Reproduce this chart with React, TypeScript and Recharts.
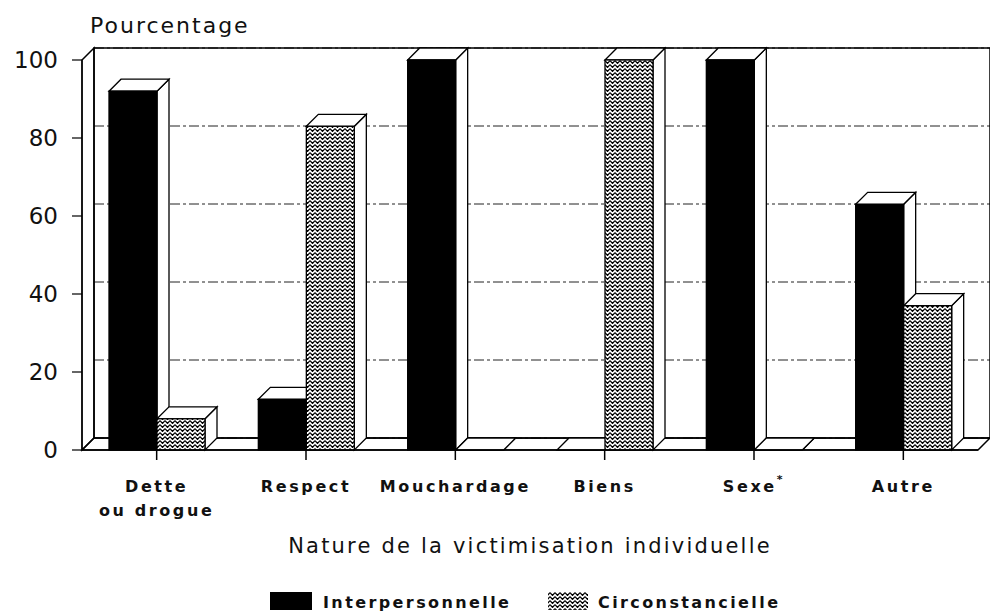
import React from "react";
import {
  BarChart,
  Bar,
  XAxis,
  YAxis,
  CartesianGrid,
  ReferenceArea,
} from "recharts";

const categories = ["Dette|ou drogue", "Respect", "Mouchardage", "Biens", "Sexe*", "Autre"];
const interpersonnelle = [92, 13, 100, 0, 100, 63];
const circonstancielle = [8, 83, 0, 100, 0, 37];
const yTicks = [0, 20, 40, 60, 80, 100];

const data = categories.map((name, i) => ({
  name,
  inter: interpersonnelle[i],
  circ: circonstancielle[i],
}));

const FONT = "'DejaVu Sans', Verdana, sans-serif";
const DEPTH = 12;

function makeBox(frontFill: string) {
  return (props: any) => {
    const { x, y, width, height } = props;
    const d = DEPTH;
    const top = `${x},${y} ${x + d},${y - d} ${x + width + d},${y - d} ${x + width},${y}`;
    const side = `${x + width},${y} ${x + width + d},${y - d} ${x + width + d},${y + height - d} ${x + width},${y + height}`;
    return (
      <g>
        <polygon points={side} fill="#fff" stroke="#000" strokeWidth={1.3} />
        <polygon points={top} fill="#fff" stroke="#000" strokeWidth={1.3} />
        {height > 0 && (
          <rect x={x} y={y} width={width} height={height} fill={frontFill} stroke="#000" strokeWidth={1.3} />
        )}
      </g>
    );
  };
}

function Walls(props: any) {
  const { x, y, width, height } = props;
  const d = DEPTH;
  const b = y + height;
  return (
    <g fill="none" stroke="#000" strokeWidth={1.5}>
      <rect x={x + d} y={y - d} width={width} height={height} />
      <polygon points={`${x},${y} ${x + d},${y - d} ${x + d},${b - d} ${x},${b}`} />
      <polygon points={`${x},${b} ${x + width},${b} ${x + width + d},${b - d} ${x + d},${b - d}`} />
    </g>
  );
}

function CategoryTick(props: any) {
  const { x, y, payload } = props;
  const label: string = payload.value;
  const lines = label.split("|");
  const style = { fontFamily: FONT, fontSize: 16, fontWeight: 700, letterSpacing: 2.6, fill: "#111" };
  if (label.endsWith("*")) {
    return (
      <text x={x} y={y + 30} textAnchor="middle" style={style}>
        {label.slice(0, -1)}
        <tspan dy={-9} fontSize={11}>*</tspan>
      </text>
    );
  }
  return (
    <text x={x} y={y + 30} textAnchor="middle" style={style}>
      {lines.map((l, i) => (
        <tspan key={i} x={x} dy={i === 0 ? 0 : 24}>
          {l}
        </tspan>
      ))}
    </text>
  );
}

function Zigzag({ id }: { id: string }) {
  return (
    <pattern id={id} width={5} height={4} patternUnits="userSpaceOnUse">
      <rect width={5} height={4} fill="#fff" />
      <path d="M0,0.6 L2.5,3.4 L5,0.6" fill="none" stroke="#000" strokeWidth={1.3} />
    </pattern>
  );
}

export default function App() {
  return (
    <div style={{ position: "relative", width: 990, height: 613, background: "#fff" }}>
      <style>{`body{margin:0}.recharts-cartesian-grid{transform:translate(${DEPTH}px,-${DEPTH}px)}`}</style>
      <BarChart
        width={990}
        height={613}
        data={data}
        margin={{ top: 60, right: 12, left: 22, bottom: 133 }}
        barSize={48}
        barGap={0}
      >
        <defs>
          <Zigzag id="zigFill" />
        </defs>
        <CartesianGrid vertical={false} stroke="#222" strokeDasharray="10 3 3 3" />
        <ReferenceArea y1={0} y2={100} shape={Walls} ifOverflow="visible" />
        <XAxis
          dataKey="name"
          interval={0}
          height={30}
          tickSize={10}
          tick={<CategoryTick />}
          axisLine={{ stroke: "#000", strokeWidth: 1.5 }}
          tickLine={{ stroke: "#000", strokeWidth: 1.5 }}
        />
        <YAxis
          domain={[0, 100]}
          ticks={yTicks}
          width={60}
          tickSize={10}
          tickMargin={14}
          axisLine={{ stroke: "#000", strokeWidth: 1.2 }}
          tickLine={{ stroke: "#000", strokeWidth: 1.2 }}
          tick={{ fontFamily: FONT, fontSize: 23, fill: "#111" }}
        />
        <Bar dataKey="inter" fill="#000" shape={makeBox("#000")} isAnimationActive={false} />
        <Bar dataKey="circ" fill="url(#zigFill)" shape={makeBox("url(#zigFill)")} isAnimationActive={false} />
      </BarChart>
      <svg
        width={990}
        height={613}
        style={{ position: "absolute", left: 0, top: 0, pointerEvents: "none" }}
      >
        <defs>
          <Zigzag id="zigLegend" />
        </defs>
        <text x={90} y={33} style={{ fontFamily: FONT, fontSize: 22, letterSpacing: 2, fill: "#111" }}>
          Pourcentage
        </text>
        <text
          x={530}
          y={553}
          textAnchor="middle"
          style={{ fontFamily: FONT, fontSize: 21, letterSpacing: 2.2, fill: "#111" }}
        >
          Nature de la victimisation individuelle
        </text>
        <rect x={270} y={592} width={42} height={18} fill="#000" />
        <text x={323} y={608} style={{ fontFamily: FONT, fontSize: 16, fontWeight: 700, letterSpacing: 2.4, fill: "#111" }}>
          Interpersonnelle
        </text>
        <rect x={548} y={592} width={40} height={18} fill="url(#zigLegend)" />
        <text x={598} y={608} style={{ fontFamily: FONT, fontSize: 16, fontWeight: 700, letterSpacing: 2.4, fill: "#111" }}>
          Circonstancielle
        </text>
      </svg>
    </div>
  );
}
